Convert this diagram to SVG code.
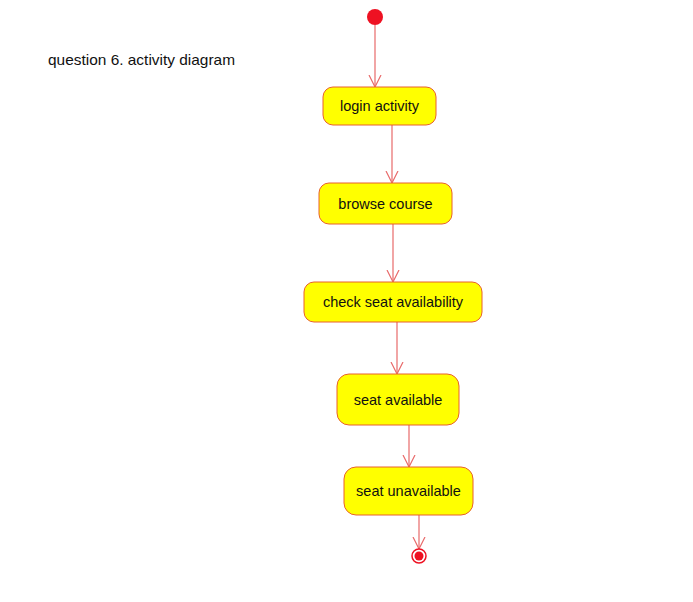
<svg xmlns="http://www.w3.org/2000/svg" width="693" height="602" viewBox="0 0 693 602">
<defs>
<style>
.box{fill:#ffff00;stroke:#e8602c;stroke-width:1}
.lbl{font-family:"Liberation Sans",Arial,sans-serif;font-size:14.5px;fill:#111;text-anchor:middle}
.edge{stroke:#e86a6a;stroke-width:1.2;fill:none}
</style>
<marker id="arr" viewBox="0 0 14 14" refX="12" refY="7" markerWidth="14" markerHeight="14" markerUnits="userSpaceOnUse" orient="auto">
<path d="M0,1 L12,7 L0,13" fill="none" stroke="#e86a6a" stroke-width="1.2"/>
</marker>
</defs>
<rect width="693" height="602" fill="#ffffff"/>
<text x="48" y="65" font-family="Liberation Sans,Arial,sans-serif" font-size="15" fill="#111" textLength="187" lengthAdjust="spacingAndGlyphs">question 6. activity diagram</text>
<g id="connectors">
<line class="edge" x1="375" y1="25" x2="375" y2="87" marker-end="url(#arr)"/>
<line class="edge" x1="392" y1="125" x2="392" y2="183" marker-end="url(#arr)"/>
<line class="edge" x1="393" y1="224" x2="393" y2="282" marker-end="url(#arr)"/>
<line class="edge" x1="397" y1="322" x2="397" y2="374" marker-end="url(#arr)"/>
<line class="edge" x1="409" y1="425" x2="409" y2="467" marker-end="url(#arr)"/>
<line class="edge" x1="419" y1="515" x2="419" y2="549" marker-end="url(#arr)"/>
</g>
<g id="start"><circle cx="375" cy="17" r="8" fill="#ee1122"/></g>
<g id="login"><rect class="box" x="323" y="87" width="113" height="38" rx="10"/><text class="lbl" x="379.5" y="111">login activity</text></g>
<g id="browse"><rect class="box" x="319" y="183" width="133" height="41" rx="10"/><text class="lbl" x="385.5" y="209">browse course</text></g>
<g id="check"><rect class="box" x="304" y="282" width="178" height="40" rx="10"/><text class="lbl" x="393" y="307">check seat availability</text></g>
<g id="available"><rect class="box" x="337" y="374" width="122" height="51" rx="12"/><text class="lbl" x="398" y="405">seat available</text></g>
<g id="unavailable"><rect class="box" x="344" y="467" width="129" height="48" rx="12"/><text class="lbl" x="408.5" y="496">seat unavailable</text></g>
<g id="end"><circle cx="419" cy="556" r="7" fill="#ffffff" stroke="#ee1122" stroke-width="1.5"/><circle cx="419" cy="556" r="4.5" fill="#ee1122"/></g>
</svg>
